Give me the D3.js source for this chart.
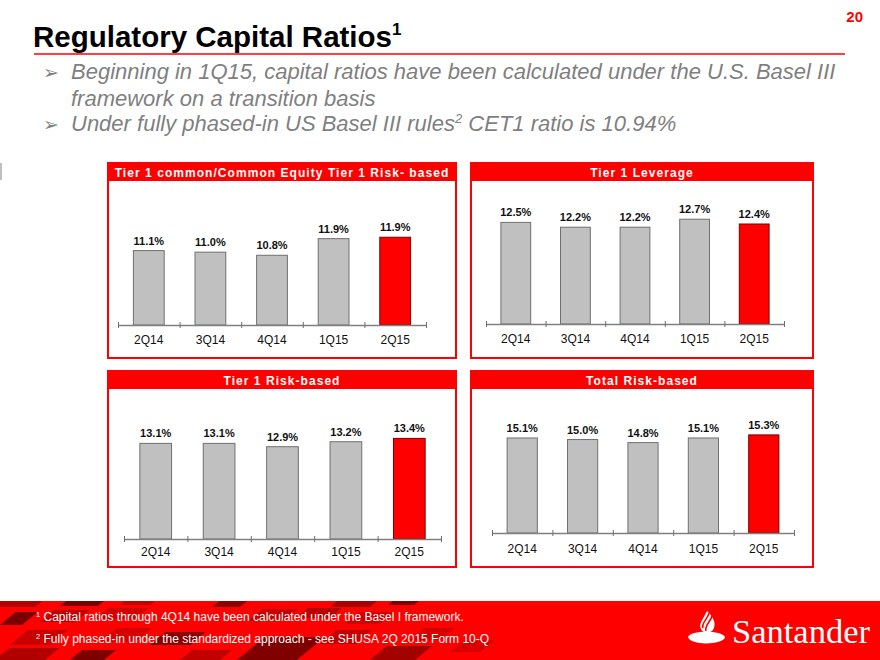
<!DOCTYPE html>
<html>
<head>
<meta charset="utf-8">
<script src="https://cdn.jsdelivr.net/npm/d3@7"></script>
<style>
  body { margin: 0; background: #fff; }
  svg { display: block; font-family: Arial, "Liberation Sans", sans-serif; }
</style>
</head>
<body>
<div id="slide"></div>
<script>
// ---- data ----
const quarters = ["2Q14", "3Q14", "4Q14", "1Q15", "2Q15"];
const cet1Values = [11.1, 11.0, 10.8, 11.86, 11.95];
const leverageValues = [12.5, 12.2, 12.2, 12.7, 12.4];
const tier1Values = [13.1, 13.1, 12.9, 13.2, 13.4];
const totalValues = [15.1, 15.0, 14.8, 15.1, 15.3];
const panelTitles = [
    "Tier 1 common/Common Equity Tier 1 Risk- based",
    "Tier 1 Leverage",
    "Tier 1 Risk-based",
    "Total Risk-based"
];
const bullets = [
    ["Beginning in 1Q15, capital ratios have been calculated under the U.S. Basel III", "framework on a transition basis"],
    ["Under fully phased-in US Basel III rules", "2", " CET1 ratio is 10.94%"]
];
const footnotes = [
    ["1", "Capital ratios through 4Q14 have been calculated under the Basel I framework."],
    ["2", "Fully phased-in under the standardized approach - see SHUSA 2Q  2015 Form 10-Q"]
];

const width = 880;
const height = 660;
const red = "#ff0000";

let svg = d3.select("#slide")
    .append("svg")
    .attr("width", width)
    .attr("height", height);

// ---- header ----
svg.append("text")
    .attr("x", 863).attr("y", 22)
    .attr("text-anchor", "end")
    .attr("fill", red)
    .style("font-size", "15px")
    .style("font-weight", "bold")
    .text("20");

let title = svg.append("text")
    .attr("x", 33).attr("y", 47)
    .attr("fill", "#000")
    .style("font-size", "29.5px")
    .style("font-weight", "bold");
title.append("tspan").text("Regulatory Capital Ratios");
title.append("tspan").attr("dy", -12).style("font-size", "17px").text("1");

svg.append("line")
    .attr("x1", 34).attr("x2", 845)
    .attr("y1", 54).attr("y2", 54)
    .attr("stroke", red)
    .attr("stroke-width", 1.5);

// bullets
const bulletColor = "#7f7f7f";
[79, 131].forEach(by => {
    svg.append("text")
        .attr("x", 43).attr("y", by)
        .attr("fill", bulletColor)
        .style("font-family", "'DejaVu Sans', sans-serif")
        .style("font-size", "19px")
        .text("\u27A2");
});
let b1 = svg.append("text")
    .attr("fill", bulletColor)
    .style("font-size", "22px")
    .style("font-style", "italic");
b1.append("tspan").attr("x", 71).attr("y", 79).text(bullets[0][0]);
b1.append("tspan").attr("x", 71).attr("y", 106).text(bullets[0][1]);

let b2 = svg.append("text")
    .attr("x", 71).attr("y", 131)
    .attr("fill", bulletColor)
    .style("font-size", "22px")
    .style("font-style", "italic");
b2.append("tspan").text(bullets[1][0]);
b2.append("tspan").attr("dy", -8).style("font-size", "13px").text(bullets[1][1]);
b2.append("tspan").attr("dy", 8).text(bullets[1][2]);

// small grey marker at left edge
svg.append("rect")
    .attr("x", 0).attr("y", 163)
    .attr("width", 2).attr("height", 17)
    .attr("fill", "#bfbfbf");

// ---- panels ----
const panels = [
    {values: cet1Values, x: 108, y: 163, w: 348, h: 195, axisY: 325, ax0: 118, ax1: 426, yMin: 6.36, ppu: 15.7, labelDy: 19, titleDy: 14},
    {values: leverageValues, x: 471, y: 163, w: 342, h: 195, axisY: 324, ax0: 486, ax1: 784, yMin: 6.15, ppu: 16, labelDy: 19, titleDy: 14},
    {values: tier1Values, x: 108, y: 371, w: 348, h: 196, axisY: 539, ax0: 124, ax1: 441, yMin: 7.34, ppu: 16.6, labelDy: 17, titleDy: 14},
    {values: totalValues, x: 471, y: 371, w: 342, h: 196, axisY: 533, ax0: 492, ax1: 794, yMin: 8.93, ppu: 15.4, labelDy: 20, titleDy: 14}
];

panels.forEach((p, pi) => {
    let g = svg.append("g").attr("class", "panel");

    g.append("rect")
        .attr("x", p.x).attr("y", p.y)
        .attr("width", p.w).attr("height", p.h)
        .attr("fill", "#fff")
        .attr("stroke", red)
        .attr("stroke-width", 2);

    g.append("rect")
        .attr("x", p.x).attr("y", p.y)
        .attr("width", p.w).attr("height", 18)
        .attr("fill", red);

    g.append("text")
        .attr("x", p.x + p.w / 2).attr("y", p.y + p.titleDy)
        .attr("text-anchor", "middle")
        .attr("fill", "#fff")
        .style("font-size", "12px")
        .style("font-weight", "bold")
        .style("letter-spacing", "1.05px")
        .text(panelTitles[pi]);

    let xScale = d3.scaleBand()
        .domain(quarters)
        .range([p.ax0, p.ax1])
        .paddingInner(0.5)
        .paddingOuter(0.25);

    let yScale = d3.scaleLinear()
        .domain([p.yMin, p.yMin + 10])
        .range([p.axisY, p.axisY - 10 * p.ppu]);

    let tickScale = d3.scaleLinear()
        .domain([0, quarters.length])
        .range([p.ax0, p.ax1]);

    let data = quarters.map((q, i) => ({q: q, v: p.values[i], last: i === quarters.length - 1}));

    g.selectAll(".bar")
        .data(data)
        .enter()
        .append("rect")
        .attr("class", "bar")
        .attr("x", d => xScale(d.q))
        .attr("y", d => yScale(d.v))
        .attr("width", xScale.bandwidth())
        .attr("height", d => yScale(p.yMin) - yScale(d.v))
        .attr("fill", d => d.last ? red : "#c0c0c0")
        .attr("stroke", d => d.last ? "#7a0000" : "#707070")
        .attr("stroke-width", 1);

    g.selectAll(".val")
        .data(data)
        .enter()
        .append("text")
        .attr("class", "val")
        .attr("x", d => xScale(d.q) + xScale.bandwidth() / 2)
        .attr("y", d => yScale(d.v) - 6)
        .attr("text-anchor", "middle")
        .attr("fill", "#111")
        .style("font-size", "11px")
        .style("font-weight", "bold")
        .text(d => d3.format(".1f")(d.v) + "%");

    let axis = g.append("g")
        .attr("transform", "translate(0," + p.axisY + ")")
        .call(d3.axisBottom(tickScale)
            .tickValues(d3.range(quarters.length + 1))
            .tickSizeOuter(0)
            .tickSizeInner(3)
            .tickFormat(""));
    axis.select(".domain")
        .attr("stroke", "#808080")
        .attr("stroke-width", 1.5);
    axis.selectAll(".tick line")
        .attr("y1", -3)
        .attr("y2", 3)
        .attr("stroke", "#707070");

    g.selectAll(".cat")
        .data(quarters)
        .enter()
        .append("text")
        .attr("class", "cat")
        .attr("x", d => xScale(d) + xScale.bandwidth() / 2)
        .attr("y", p.axisY + p.labelDy)
        .attr("text-anchor", "middle")
        .attr("fill", "#111")
        .style("font-size", "12px")
        .text(d => d);
});

// ---- footer band ----
const footTop = 601;
svg.append("rect")
    .attr("x", 0).attr("y", footTop)
    .attr("width", width).attr("height", height - footTop)
    .attr("fill", red);

// darker tiles of the background grid
const tiles = [
    [-10, 601, 45, 6, "#b30000"], [60, 601, 38, 5, "#7a0000"], [120, 601, 30, 4, "#c40000"],
    [212, 601, 28, 6, "#900000"], [330, 601, 40, 6, "#a80000"], [388, 601, 26, 4, "#800000"],
    [0, 612, 22, 13, "#7a0000"], [40, 610, 35, 12, "#c00000"], [95, 608, 40, 11, "#d10000"],
    [248, 609, 36, 12, "#c40000"], [296, 608, 34, 10, "#b80000"], [345, 612, 35, 12, "#d00000"],
    [10, 630, 40, 15, "#c80000"], [150, 632, 40, 13, "#8a0000"], [100, 628, 35, 14, "#d60000"],
    [237, 637, 60, 23, "#800000"], [320, 630, 35, 14, "#c30000"], [410, 628, 30, 12, "#d40000"],
    [-5, 648, 50, 12, "#b00000"], [70, 650, 34, 10, "#7c0000"], [180, 650, 40, 10, "#c10000"],
    [370, 646, 45, 14, "#a30000"], [450, 640, 30, 12, "#d80000"]
];
svg.append("g")
    .selectAll("path")
    .data(tiles)
    .enter()
    .append("path")
    .attr("d", t => {
        const [x, y, w, h] = t;
        const s = h * 1.2;
        return `M${x + s},${y}L${x + s + w},${y}L${x + w},${y + h}L${x},${y + h}Z`;
    })
    .attr("fill", t => t[4]);

footnotes.forEach((f, i) => {
    let t = svg.append("text")
        .attr("x", 36).attr("y", 621 + i * 22)
        .attr("fill", "#fff")
        .style("font-size", "12px");
    t.append("tspan").attr("dy", -4).style("font-size", "7.5px").text(f[0]);
    t.append("tspan").attr("dy", 4).text(" " + f[1]);
});

// Santander logo
let logo = svg.append("g").attr("fill", "#fff");
logo.append("path")
    .attr("d", "M688,637 C690,630 722,630 725,637 C724,645 690,646 688,637 Z");
logo.append("path")
    .attr("d", "M707,611 C713,617 717,623 713,630 C711,633 703,634 701,629 C698,624 704,618 707,611 Z");
logo.append("path")
    .attr("d", "M703,628 C701,623 708,619 709,613 M706,631 C704,626 711,621 712,616")
    .attr("fill", "none")
    .attr("stroke", red)
    .attr("stroke-width", 1.6);

svg.append("text")
    .attr("x", 732).attr("y", 643)
    .attr("fill", "#fff")
    .style("font-family", "'Liberation Serif', 'DejaVu Serif', serif")
    .style("font-size", "34.5px")
    .text("Santander");
</script>
</body>
</html>
